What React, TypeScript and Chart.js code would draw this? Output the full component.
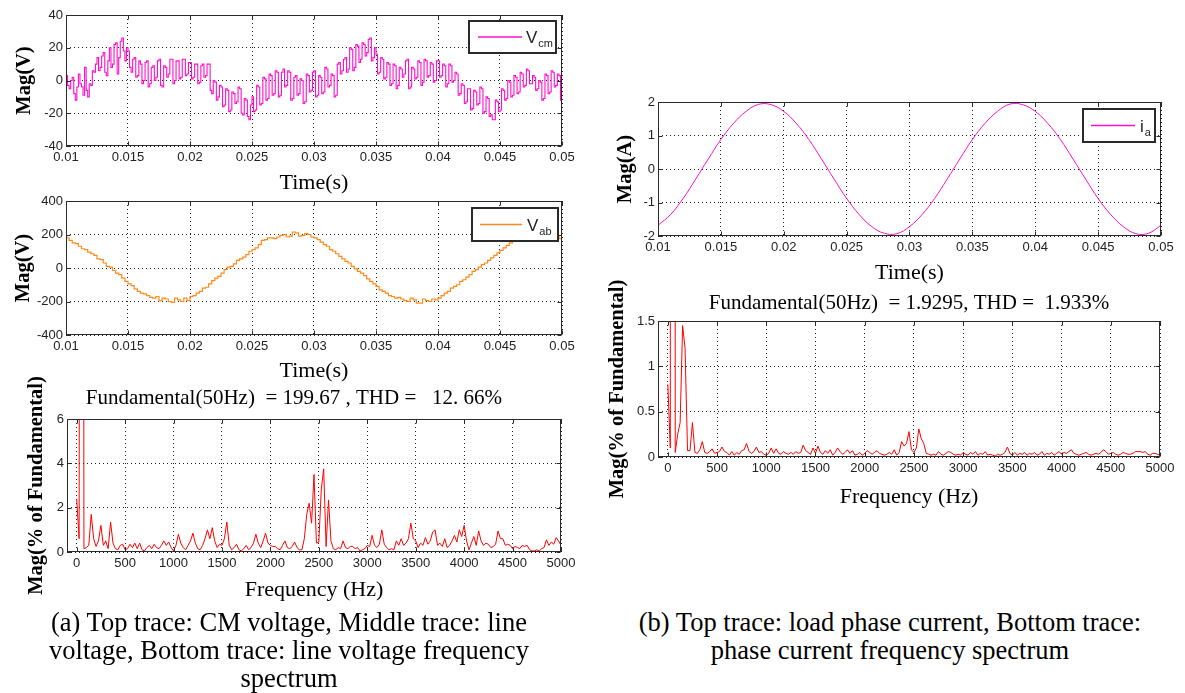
import React, { useEffect, useRef } from "react";
import { Chart, registerables } from "chart.js";

Chart.register(...registerables);

// ---------------- DATA ----------------
// Common-mode voltage Vcm (V), sampled every 0.125 ms from 0.01 s
const VCM_START = 0.01;
const VCM_STEP = 0.000125;
const vcmValues = [
  3, -3, -5, 0, 2, -8, -12, -4, 4, -2, -4, -9, 8, -6, -10, -2, -3, 6, 5, 10,
  14, 6, 8, 15, 17, 5, 3, 12, 20, 8, 10, 22, 23, 4, 14, 24, 26, 18, 12, 20,
  18, 8, 5, 13, 14, 2, 3, 12, 10, -2, 0, 11, 12, -4, -2, 8, 9, 0, 2, 12,
  13, -3, -4, 9, 8, 2, 4, 13, 13, -2, 0, 12, 12, 1, 2, 13, 13, 3, 4, 11,
  11, 1, 2, 10, 10, -2, -1, 9, 10, 2, 3, 10, 10, -6, -8, 0, -1, -12, -10, -3,
  -4, -16, -15, -5, -6, -19, -18, -7, -8, -14, -13, -4, -5, -20, -21, -11, -12, -22, -24, -15,
  -10, -19, -18, -3, -4, -15, -14, 2, 1, -12, -11, 4, 3, -9, -8, 6, 5, -10, -9, 5,
  7, -4, -3, 6, 5, -12, -11, 2, 3, -9, -8, 1, 0, -14, -13, 4, 3, -7, -6, 5,
  6, -10, -9, 3, 2, -8, -7, 8, 7, -4, -3, 4, 3, -10, -9, 10, 11, 4, 6, 13,
  14, 5, 7, 20, 19, 6, 8, 22, 21, 11, 13, 23, 22, 15, 17, 25, 26, 12, 14, 20,
  16, 4, 5, 14, 13, 1, 2, 11, 10, -3, -2, 10, 9, -5, -3, 8, 7, 2, 4, 12,
  13, -5, -4, 8, 7, 1, 2, 12, 11, -3, -1, 13, 12, 2, 3, 11, 10, -1, 0, 12,
  12, 2, 3, 10, 9, -4, -2, 10, 9, -1, 0, 5, 4, -9, -8, -2, -3, -14, -13, -5,
  -5, -18, -17, -6, -7, -15, -14, -4, -5, -20, -19, -10, -11, -22, -21, -24, -24, -12, -13, -19,
  -18, -5, -6, -12, -11, 0, -1, -10, -9, 3, 2, -8, -7, 5, 4, -4, -3, 7, 6, -2,
  -2, 3, 2, -6, -5, 0, -1, -12, -11, 4, 3, -8, -7, 6, 5, -4, -3, 4, 3, -12,
  -12,
];

// Line voltage Vab (V), sampled every 0.25 ms from 0.01 s
const VAB_START = 0.01;
const VAB_STEP = 0.00025;
const vabValues = [
  180, 165, 150, 145, 130, 115, 110, 95, 85, 75,
  55, 50, 30, 10, 5, -15, -30, -40, -60, -80,
  -95, -105, -125, -140, -150, -155, -165, -175, -180, -170,
  -195, -180, -185, -200, -205, -180, -190, -200, -180, -195,
  -170, -165, -150, -140, -120, -115, -95, -75, -60, -50,
  -30, -10, 5, 10, 25, 45, 55, 65, 80, 100,
  110, 120, 140, 165, 170, 180, 180, 175, 185, 195,
  200, 185, 190, 215, 210, 190, 195, 205, 200, 185,
  180, 170, 155, 140, 130, 110, 100, 85, 70, 55,
  40, 30, 10, -5, -20, -30, -45, -65, -80, -95,
  -110, -130, -140, -150, -165, -170, -180, -175, -185, -195,
  -200, -180, -190, -210, -210, -185, -195, -200, -185, -190,
  -180, -165, -150, -140, -120, -110, -100, -80, -70, -55,
  -40, -20, -10, 5, 20, 30, 45, 60, 75, 90,
  105, 120, 135, 150, 160, 170, 175, 185, 185, 190,
  190, 200, 200, 195, 195, 205, 205, 195, 190, 175,
  170,
];

// Load phase current ia (A), sampled every 1 ms from 0.01 s
const IA_START = 0.01;
const IA_STEP = 0.001;
const iaValues = [
  -1.68, -1.36, -0.88, -0.3, 0.3, 0.88, 1.36, 1.72, 1.93, 1.92,
  1.72, 1.36, 0.88, 0.3, -0.3, -0.88, -1.36, -1.72, -1.92, -1.93,
  -1.72, -1.36, -0.88, -0.3, 0.3, 0.88, 1.36, 1.72, 1.94, 1.92,
  1.72, 1.36, 0.88, 0.3, -0.3, -0.88, -1.36, -1.72, -1.93, -1.92,
  -1.68,
];

// Spectra (% of fundamental), every 25 Hz from 0 to 5000 Hz
const FREQ_STEP = 25;
const spectrumA = [
  2.4, 0.6, 100, 0.15, 0.2, 0.3, 1.7, 0.6, 0.25, 0.5,
  1.2, 0.3, 0.5, 0.15, 1.35, 0.4, 0.15, 0.1, 0.3, 0.35,
  0.1, 0.15, 0.35, 0.2, 0.4, 0.15, 0.4, 0.1, 0.05, 0.2,
  0.3, 0.15, 0.35, 0.2, 0.15, 0.3, 0.5, 0.3, 0.45, 0.2,
  0.05, 0.3, 0.8, 0.4, 0.2, 0.1, 0.3, 0.5, 0.85, 0.4,
  0.15, 0.1, 0.3, 0.6, 1.0, 0.6, 1.1, 0.5, 0.2, 0.35,
  0.3, 0.6, 1.35, 0.3, 0.1, 0.2, 0.35, 0.1, 0.05, 0.15,
  0.3, 0.1, 0.2, 0.4, 0.8, 0.4, 0.2, 0.5, 0.85, 0.4,
  0.3, 0.25, 0.25, 0.15, 0.1, 0.3, 0.5, 0.2, 0.15, 0.25,
  0.45, 0.2, 0.1, 0.1, 0.6, 1.7, 2.2, 1.3, 3.5, 0.4,
  0.45, 2.8, 3.75, 0.25, 2.35, 0.5, 0.15, 0.1, 0.2, 0.15,
  0.5, 0.2, 0.15, 0.25, 0.25, 0.15, 0.2, 0.05, 0.1, 0.15,
  0.3, 0.25, 0.75, 0.3, 0.2, 0.35, 1.0, 0.35, 0.2, 0.1,
  0.15, 0.1, 0.5, 0.3, 0.6, 0.3, 0.4, 0.6, 1.3, 0.6,
  0.5, 0.2, 0.4, 0.3, 0.65, 0.35, 0.5, 0.9, 1.0, 0.3,
  0.4, 0.25, 0.6, 0.2, 0.3, 0.5, 0.75, 0.45, 1.0, 0.7,
  1.2, 0.5, 0.1, 0.4, 0.7, 0.3, 0.95, 0.5, 0.3, 0.4,
  0.35, 0.2, 0.25, 0.35, 0.95, 0.6, 0.6, 0.3, 0.35, 0.3,
  0.15, 0.25, 0.2, 0.15, 0.3, 0.25, 0.3, 0.1, 0.05, 0.05,
  0.1, 0.05, 0.15, 0.2, 0.55, 0.3, 0.45, 0.35, 0.65, 0.5,
  0.3,
];
const spectrumB = [
  0.8, 0.1, 100, 0.05, 0.25, 0.38, 1.45, 1.2, 0.07, 0.07,
  0.38, 0.05, 0.04, 0.08, 0.17, 0.05, 0.04, 0.06, 0.09, 0.04,
  0.05, 0.06, 0.11, 0.06, 0.05, 0.02, 0.06, 0.02, 0.05, 0.03,
  0.07, 0.08, 0.15, 0.06, 0.04, 0.06, 0.11, 0.05, 0.06, 0.03,
  0.02, 0.04, 0.1, 0.04, 0.09, 0.04, 0.03, 0.06, 0.04, 0.03,
  0.05, 0.03, 0.06, 0.04, 0.05, 0.13, 0.07, 0.05, 0.03, 0.1,
  0.04, 0.12, 0.05, 0.03, 0.07, 0.04, 0.08, 0.02, 0.05, 0.1,
  0.06, 0.03, 0.05, 0.08, 0.04, 0.07, 0.02, 0.03, 0.05, 0.02,
  0.04, 0.07, 0.05, 0.03, 0.05, 0.07, 0.04, 0.03, 0.02, 0.03,
  0.05, 0.03, 0.08, 0.02, 0.05, 0.17, 0.12, 0.15, 0.28, 0.08,
  0.05, 0.1, 0.31, 0.2, 0.15, 0.04, 0.03, 0.02, 0.03, 0.02,
  0.06, 0.03, 0.02, 0.04, 0.06, 0.05, 0.03, 0.02, 0.03, 0.02,
  0.05, 0.03, 0.02, 0.05, 0.03, 0.06, 0.02, 0.04, 0.03, 0.06,
  0.02, 0.03, 0.02, 0.01, 0.03, 0.02, 0.03, 0.05, 0.11, 0.04,
  0.02, 0.05, 0.02, 0.04, 0.03, 0.05, 0.02, 0.04, 0.03, 0.05,
  0.02, 0.03, 0.06, 0.02, 0.04, 0.03, 0.05, 0.02, 0.04, 0.06,
  0.03, 0.05, 0.04, 0.06, 0.08, 0.04, 0.03, 0.02, 0.03, 0.04,
  0.05, 0.03, 0.02, 0.03, 0.04, 0.03, 0.05, 0.08, 0.06, 0.03,
  0.04, 0.05, 0.03, 0.02, 0.03, 0.05, 0.04, 0.03, 0.03, 0.04,
  0.06, 0.06, 0.06, 0.05, 0.06, 0.03, 0.02, 0.04, 0.04, 0.03,
  0.02,
];

// Tick labels
const timeTicks = [0.01, 0.015, 0.02, 0.025, 0.03, 0.035, 0.04, 0.045, 0.05];
const freqTicks = [0, 500, 1000, 1500, 2000, 2500, 3000, 3500, 4000, 4500, 5000];
const vcmTicks = [-40, -20, 0, 20, 40];
const vabTicks = [-400, -200, 0, 200, 400];
const specATicks = [0, 2, 4, 6];
const iaTicks = [-2, -1, 0, 1, 2];
const specBTicks = [0, 0.5, 1, 1.5];

const titleA = "Fundamental(50Hz)  = 199.67 , THD =   12. 66%";
const titleB = "Fundamental(50Hz)  = 1.9295, THD =  1.933%";
const captionA = [
  "(a) Top trace: CM voltage, Middle trace: line",
  "voltage, Bottom trace: line voltage frequency",
  "spectrum",
];
const captionB = [
  "(b) Top trace: load phase current, Bottom trace:",
  "phase current frequency spectrum",
];

// ---------------- STYLE ----------------
const SERIF = "'Liberation Serif', 'Times New Roman', serif";
const SANS = "'Liberation Sans', Arial, sans-serif";
const Y_TITLE_SIZE = 20.5;
const X_TITLE_SIZE = 22;
const TITLE_SIZE = 21;

function toPoints(start: number, step: number, values: number[]) {
  return values.map((v, i) => ({ x: start + i * step, y: v }));
}

type LegendSpec = {
  main: string;
  sub: string;
  color: string;
  w: number;
  h: number;
  offR: number;
  offT: number;
  lx0: number;
  lx1: number;
  tx: number;
};

function makeFramePlugin(legend?: LegendSpec) {
  return {
    id: "matlabFrame",
    afterDatasetsDraw(chart: any) {
      const { ctx, chartArea: a, scales } = chart;
      ctx.save();
      const L = Math.round(a.left) + 0.5;
      const T = Math.round(a.top) + 0.5;
      const R = Math.round(a.right) - 0.5;
      const B = Math.round(a.bottom) - 0.5;
      ctx.strokeStyle = "#2a2a2a";
      ctx.lineWidth = 1;
      ctx.setLineDash([]);
      ctx.strokeRect(L, T, R - L, B - T);
      const tl = 4;
      ctx.beginPath();
      scales.x.ticks.forEach((t: any) => {
        const px = Math.round(scales.x.getPixelForValue(t.value)) + 0.5;
        ctx.moveTo(px, B);
        ctx.lineTo(px, B - tl);
        ctx.moveTo(px, T);
        ctx.lineTo(px, T + tl);
      });
      scales.y.ticks.forEach((t: any) => {
        const py = Math.round(scales.y.getPixelForValue(t.value)) + 0.5;
        ctx.moveTo(L, py);
        ctx.lineTo(L + tl, py);
        ctx.moveTo(R, py);
        ctx.lineTo(R - tl, py);
      });
      ctx.stroke();

      if (legend) {
        const x = Math.round(a.right - legend.offR - legend.w);
        const y = Math.round(a.top + legend.offT);
        ctx.fillStyle = "#ffffff";
        ctx.fillRect(x, y, legend.w, legend.h);
        ctx.strokeStyle = "#2a2a2a";
        ctx.lineWidth = 2;
        ctx.strokeRect(x, y, legend.w, legend.h);
        const cy = y + legend.h / 2;
        ctx.strokeStyle = legend.color;
        ctx.lineWidth = 1.5;
        ctx.beginPath();
        ctx.moveTo(x + legend.lx0, cy);
        ctx.lineTo(x + legend.lx1, cy);
        ctx.stroke();
        ctx.fillStyle = "#222";
        ctx.textBaseline = "alphabetic";
        ctx.textAlign = "left";
        ctx.font = `17px ${SANS}`;
        ctx.fillText(legend.main, x + legend.tx, cy + 6);
        const mw = ctx.measureText(legend.main).width;
        ctx.font = `11px ${SANS}`;
        ctx.fillText(legend.sub, x + legend.tx + mw + 1, cy + 10);
      }
      ctx.restore();
    },
  };
}

type PanelSpec = {
  box: { x: number; y: number; w: number; h: number };
  plot: { L: number; T: number; R: number; B: number };
  points: { x: number; y: number }[];
  color: string;
  lineWidth: number;
  stepped?: boolean;
  tension?: number;
  xMin: number;
  xMax: number;
  xTicks: number[];
  yMin: number;
  yMax: number;
  yTicks: number[];
  xFmt: (v: number) => string;
  xTitle: string;
  xTitleY: number;
  yTitle: string;
  yTitleX: number;
  title?: { text: string; cy: number; full: boolean };
  legend?: LegendSpec;
};

function Panel(p: PanelSpec) {
  const ref = useRef<HTMLCanvasElement | null>(null);
  useEffect(() => {
    const c = ref.current;
    if (!c) return;
    const Wy = p.plot.L - p.yTitleX + Y_TITLE_SIZE / 2;
    const Hx = p.xTitleY - p.plot.B + X_TITLE_SIZE / 2;
    const padTop = p.title
      ? p.title.cy - TITLE_SIZE / 2 - p.box.y
      : p.plot.T - p.box.y;
    const titleOpts = p.title
      ? {
          display: true,
          text: p.title.text,
          fullSize: p.title.full,
          color: "#000",
          font: { family: SERIF, size: TITLE_SIZE, weight: "normal", lineHeight: 1 },
          padding: { top: 0, bottom: p.plot.T - (p.title.cy + TITLE_SIZE / 2) },
        }
      : { display: false };
    const tickFont = { family: SANS, size: 13, lineHeight: 1.2 };
    const chart = new Chart(c, {
      type: "line",
      data: {
        datasets: [
          {
            data: p.points,
            borderColor: p.color,
            borderWidth: p.lineWidth,
            pointRadius: 0,
            fill: false,
            stepped: p.stepped ? true : false,
            tension: p.tension || 0,
          },
        ],
      },
      options: {
        animation: false,
        responsive: false,
        maintainAspectRatio: false,
        events: [],
        layout: {
          padding: {
            left: p.plot.L - Wy - p.box.x,
            right: p.box.x + p.box.w - p.plot.R,
            top: padTop,
            bottom: p.box.y + p.box.h - p.plot.B - Hx,
          },
        },
        plugins: {
          legend: { display: false },
          tooltip: { enabled: false },
          title: titleOpts as any,
        },
        scales: {
          x: {
            type: "linear",
            min: p.xMin,
            max: p.xMax,
            border: { display: false, dash: [1, 3] },
            grid: { color: "#222", lineWidth: 1, drawTicks: false },
            afterBuildTicks: (s: any) => {
              s.ticks = p.xTicks.map((v) => ({ value: v }));
            },
            ticks: {
              autoSkip: false,
              maxRotation: 0,
              minRotation: 0,
              padding: 4,
              color: "#222",
              font: tickFont,
              callback: (v: any) => p.xFmt(Number(v)),
            },
            title: {
              display: true,
              text: p.xTitle,
              color: "#000",
              padding: 0,
              font: { family: SERIF, size: X_TITLE_SIZE, weight: "normal", lineHeight: 1 },
            },
            afterFit: (s: any) => {
              s.height = Hx;
            },
          },
          y: {
            type: "linear",
            min: p.yMin,
            max: p.yMax,
            border: { display: false, dash: [1, 3] },
            grid: { color: "#222", lineWidth: 1, drawTicks: false },
            afterBuildTicks: (s: any) => {
              s.ticks = p.yTicks.map((v) => ({ value: v }));
            },
            ticks: {
              autoSkip: false,
              padding: 3,
              color: "#222",
              font: tickFont,
              callback: (v: any) => String(Number(v)),
            },
            title: {
              display: true,
              text: p.yTitle,
              color: "#000",
              padding: 0,
              font: { family: SERIF, size: Y_TITLE_SIZE, weight: "bold", lineHeight: 1 },
            },
            afterFit: (s: any) => {
              s.width = Wy;
            },
          },
        },
      } as any,
      plugins: [makeFramePlugin(p.legend)],
    });
    return () => chart.destroy();
  }, []);
  return (
    <canvas
      ref={ref}
      width={p.box.w}
      height={p.box.h}
      style={{
        position: "absolute",
        left: p.box.x,
        top: p.box.y,
        width: p.box.w,
        height: p.box.h,
      }}
    />
  );
}

const timeFmt = (v: number) => String(Math.round(v * 1000) / 1000);
const freqFmt = (v: number) => String(Math.round(v));

function Caption({ lines, left, width }: { lines: string[]; left: number; width: number }) {
  return (
    <div
      style={{
        position: "absolute",
        left,
        top: 608,
        width,
        textAlign: "center",
        fontFamily: SERIF,
        fontSize: 26.5,
        lineHeight: "28px",
        color: "#000",
        whiteSpace: "pre",
      }}
    >
      {lines.map((l, i) => (
        <div key={i}>{l}</div>
      ))}
    </div>
  );
}

export default function App() {
  const vcmPts = toPoints(VCM_START, VCM_STEP, vcmValues);
  const vabPts = toPoints(VAB_START, VAB_STEP, vabValues);
  const iaPts = toPoints(IA_START, IA_STEP, iaValues);
  const specAPts = toPoints(0, FREQ_STEP, spectrumA);
  const specBPts = toPoints(0, FREQ_STEP, spectrumB);

  return (
    <div
      style={{
        position: "absolute",
        left: 0,
        top: 0,
        width: 1185,
        height: 693,
        background: "#fff",
        overflow: "hidden",
      }}
    >
      <Panel
        box={{ x: 0, y: 0, w: 580, h: 200 }}
        plot={{ L: 66, T: 15, R: 562, B: 146 }}
        points={vcmPts}
        color="#ff10cc"
        lineWidth={1.1}
        stepped
        xMin={0.01}
        xMax={0.05}
        xTicks={timeTicks}
        yMin={-40}
        yMax={40}
        yTicks={vcmTicks}
        xFmt={timeFmt}
        xTitle="Time(s)"
        xTitleY={183}
        yTitle="Mag(V)"
        yTitleX={25}
        legend={{ main: "V", sub: "cm", color: "#ff10cc", w: 87, h: 32, offR: 6, offT: 6, lx0: 9, lx1: 53, tx: 57 }}
      />
      <Panel
        box={{ x: 0, y: 185, w: 580, h: 200 }}
        plot={{ L: 66, T: 201, R: 562, B: 335 }}
        points={vabPts}
        color="#ff8a1c"
        lineWidth={1.2}
        stepped
        xMin={0.01}
        xMax={0.05}
        xTicks={timeTicks}
        yMin={-400}
        yMax={400}
        yTicks={vabTicks}
        xFmt={timeFmt}
        xTitle="Time(s)"
        xTitleY={371}
        yTitle="Mag(V)"
        yTitleX={24}
        legend={{ main: "V", sub: "ab", color: "#ff8a1c", w: 86, h: 33, offR: 4, offT: 7, lx0: 8, lx1: 50, tx: 55 }}
      />
      <Panel
        box={{ x: 0, y: 370, w: 580, h: 240 }}
        plot={{ L: 67, T: 419, R: 561, B: 552 }}
        points={specAPts}
        color="#ff0000"
        lineWidth={1}
        xMin={-100}
        xMax={5000}
        xTicks={freqTicks}
        yMin={0}
        yMax={6}
        yTicks={specATicks}
        xFmt={freqFmt}
        xTitle="Frequency (Hz)"
        xTitleY={590}
        yTitle="Mag(% of Fundamental)"
        yTitleX={37}
        title={{ text: titleA, cy: 398, full: true }}
      />
      <Panel
        box={{ x: 590, y: 80, w: 595, h: 210 }}
        plot={{ L: 658, T: 102, R: 1161, B: 236 }}
        points={iaPts}
        color="#ff10cc"
        lineWidth={1}
        tension={0.4}
        xMin={0.01}
        xMax={0.05}
        xTicks={timeTicks}
        yMin={-2}
        yMax={2}
        yTicks={iaTicks}
        xFmt={timeFmt}
        xTitle="Time(s)"
        xTitleY={273}
        yTitle="Mag(A)"
        yTitleX={626}
        legend={{ main: "i", sub: "a", color: "#ff10cc", w: 72, h: 33, offR: 6, offT: 7, lx0: 8, lx1: 52, tx: 57 }}
      />
      <Panel
        box={{ x: 590, y: 278, w: 595, h: 240 }}
        plot={{ L: 658, T: 321, R: 1160, B: 457 }}
        points={specBPts}
        color="#ff0000"
        lineWidth={1}
        xMin={-100}
        xMax={5000}
        xTicks={freqTicks}
        yMin={0}
        yMax={1.5}
        yTicks={specBTicks}
        xFmt={freqFmt}
        xTitle="Frequency (Hz)"
        xTitleY={497}
        yTitle="Mag(% of Fundamental)"
        yTitleX={618}
        title={{ text: titleB, cy: 303, full: false }}
      />
      <Caption lines={captionA} left={0} width={578} />
      <Caption lines={captionB} left={590} width={600} />
    </div>
  );
}
